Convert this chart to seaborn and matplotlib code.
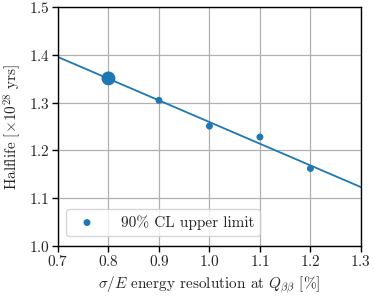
import numpy as np
import pandas as pd
import matplotlib
matplotlib.use("Agg")
import matplotlib.pyplot as plt
import seaborn as sns

# energy resolution [%] and 90% CL halflife limits [1e28 yrs]
resolution = [0.8, 0.9, 1.0, 1.1, 1.2]
halflife = [1.351, 1.305, 1.251, 1.228, 1.162]
marker_size = [100, 25, 25, 25, 25]

sns.set_theme(style="whitegrid")
plt.rcParams["font.family"] = ["serif"]
plt.rcParams["font.serif"] = ["cmr10"]
plt.rcParams["mathtext.fontset"] = "cm"
plt.rcParams["axes.formatter.use_mathtext"] = True

df = pd.DataFrame({"res": resolution, "hl": halflife, "s": marker_size})

fig, ax = plt.subplots(figsize=(3.74, 2.96), dpi=100)
ax.set_xlim(0.7, 1.3)
ax.set_ylim(1.0, 1.5)

# linear fit line across the full x range
sns.regplot(data=df, x="res", y="hl", scatter=False, ci=None, truncate=False,
            ax=ax, color="#1f77b4", line_kws={"lw": 1.3})
ax.scatter(df["res"], df["hl"], s=df["s"], color="#1f77b4", zorder=3,
           label="90% CL upper limit", edgecolors="none")

ax.set_xlim(0.7, 1.3)
ax.set_ylim(1.0, 1.5)
ax.set_xticks(np.arange(0.7, 1.31, 0.1))
ax.set_yticks(np.arange(1.0, 1.51, 0.1))
ax.grid(True, color="#b0b0b0", lw=0.9)
for sp in ax.spines.values():
    sp.set_color("black")
    sp.set_linewidth(1.0)
ax.tick_params(axis="both", direction="out", length=4, width=1.0,
               color="black", labelsize=11, pad=2, bottom=True, left=True)

ax.set_xlabel(r"$\sigma/E$ energy resolution at $Q_{\beta\beta}$ [%]", fontsize=11)
ax.set_ylabel(r"Halflife [$\times10^{28}$ yrs]", fontsize=11)

leg = ax.legend(loc="lower left", fontsize=11, frameon=True,
                borderpad=0.4, handletextpad=1.2, bbox_to_anchor=(0.0, 0.01))
leg.legend_handles[0].set_sizes([25])
leg.get_frame().set_edgecolor("#cccccc")

fig.subplots_adjust(left=0.155, right=0.965, top=0.975, bottom=0.17)
fig.savefig("out.png", dpi=100)
